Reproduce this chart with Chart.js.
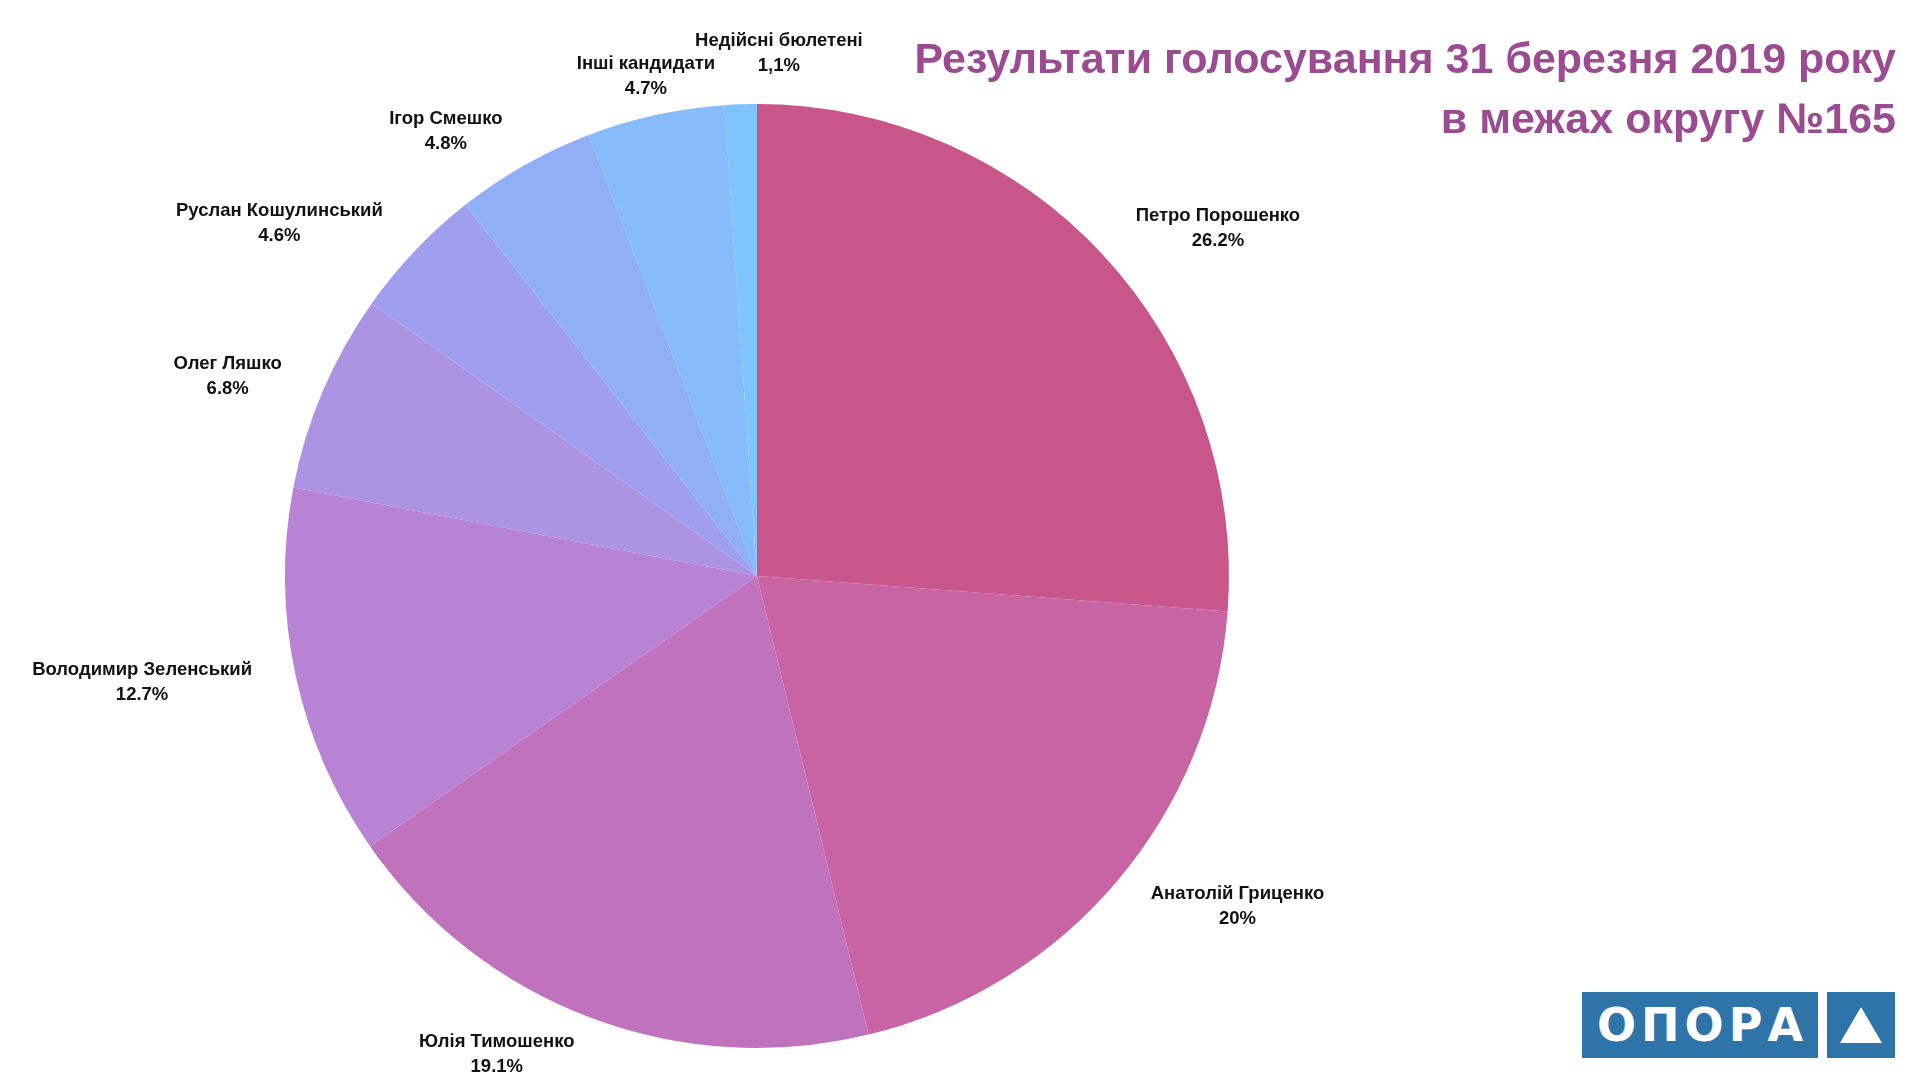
<!DOCTYPE html>
<html lang="uk">
<head>
<meta charset="utf-8">
<title>Результати голосування 31 березня 2019 року в межах округу №165</title>
<script src="https://cdn.jsdelivr.net/npm/chart.js@4.4.1/dist/chart.umd.min.js"></script>
<style>
    html, body { margin: 0; padding: 0; background: #ffffff; }
    body { width: 1920px; height: 1080px; position: relative; overflow: hidden; font-family: "Liberation Sans", Arial, sans-serif; }
    #chartVybory { position: absolute; left: 0; top: 0; }
    .titulo { position: absolute; right: 24px; top: 28px; text-align: right; color: #9b4b90; font-weight: bold; font-size: 43px; line-height: 60px; white-space: nowrap; }
    .logo-texto { position: absolute; left: 1582px; top: 992px; width: 236px; height: 66px; background: #2f74a8; color: #ffffff; font-family: "DejaVu Sans", sans-serif; font-weight: bold; font-size: 46px; letter-spacing: 5px; text-indent: 5px; line-height: 66px; text-align: center; }
    .logo-tri { position: absolute; left: 1827px; top: 992px; width: 68px; height: 66px; background: #2f74a8; }
    .logo-tri span { position: absolute; left: 13px; top: 15px; width: 0; height: 0; border-left: 21px solid transparent; border-right: 21px solid transparent; border-bottom: 36px solid #ffffff; }
</style>
</head>
<body>
<canvas id="chartVybory" width="1920" height="1080"></canvas>
<div class="titulo">Результати голосування 31 березня 2019 року<br>в межах округу №165</div>
<div class="logo-texto">ОПОРА</div>
<div class="logo-tri"><span></span></div>

<script>
var kandydaty = ['Петро Порошенко', 'Анатолій Гриценко', 'Юлія Тимошенко', 'Володимир Зеленський', 'Олег Ляшко', 'Руслан Кошулинський', 'Ігор Смешко', 'Інші кандидати', 'Недійсні бюлетені'],
    vidsotky = [26.2, 20, 19.1, 12.7, 6.8, 4.6, 4.8, 4.7, 1.1],
    vidsotky_texto = ['26.2%', '20%', '19.1%', '12.7%', '6.8%', '4.6%', '4.8%', '4.7%', '1,1%'],
    kolory = ['#c9568a', '#c864a4', '#c072bd', '#b883d4', '#ad93e3', '#a09fef', '#91aff7', '#86bbfc', '#7ec4fe'],
    ctx = document.getElementById('chartVybory');

// etiquetas fuera del pastel: nombre en negrita y porcentaje debajo
var etiquetasFuera = {
    id: 'etiquetasFuera',
    afterDatasetsDraw: function (chart) {
        var c = chart.ctx;
        var arcos = chart.getDatasetMeta(0).data;
        var cajas = [];
        var lineaAlto = 25;

        c.save();
        c.font = 'bold 18.5px "Liberation Sans", Arial, sans-serif';
        c.fillStyle = '#111111';
        c.textAlign = 'center';
        c.textBaseline = 'middle';

        arcos.forEach(function (arco, i) {
            var p = arco.getProps(['x', 'y', 'startAngle', 'endAngle', 'outerRadius'], true);
            var medio = (p.startAngle + p.endAngle) / 2;
            var r = p.outerRadius;
            var dirX = Math.cos(medio), dirY = Math.sin(medio);
            var ancho = Math.max(c.measureText(kandydaty[i]).width, c.measureText(vidsotky_texto[i]).width);
            // el borde interior del texto queda sobre un circulo un poco mayor que el pastel
            var cx = p.x + dirX * r * 1.094;
            var cy = p.y + dirY * r * 1.083;
            if (Math.abs(dirX) >= 0.3) {
                cx += (dirX > 0 ? 1 : -1) * ancho / 2;
            }
            var caja = { x: cx, y: cy, w: ancho, h: lineaAlto * 2 - 4 };

            // si choca con una etiqueta anterior se sube medio renglon y se corre de lado
            cajas.forEach(function (otra) {
                var chocaX = Math.abs(caja.x - otra.x) < (caja.w + otra.w) / 2 + 4;
                var chocaY = Math.abs(caja.y - otra.y) < (caja.h + otra.h) / 2;
                if (chocaX && chocaY) {
                    caja.y -= lineaAlto * 0.45;
                    if (caja.x >= otra.x) {
                        caja.x = otra.x + (otra.w + caja.w) / 2 - 20;
                    } else {
                        caja.x = otra.x - (otra.w + caja.w) / 2 + 20;
                    }
                }
            });
            cajas.push(caja);

            c.fillText(kandydaty[i], caja.x, caja.y - lineaAlto / 2);
            c.fillText(vidsotky_texto[i], caja.x, caja.y + lineaAlto / 2);
        });
        c.restore();
    }
};

var graficoVybory = new Chart(ctx, {
    type: 'pie',
    data: {
        labels: kandydaty,
        datasets: [{
            data: vidsotky,
            backgroundColor: kolory,
            borderWidth: 0
        }]
    },
    options: {
        responsive: false,
        animation: false,
        devicePixelRatio: 1,
        layout: {
            padding: { left: 285, right: 691, top: 104, bottom: 32 }
        },
        plugins: {
            legend: { display: false },
            tooltip: { enabled: false },
            title: { display: false }
        }
    },
    plugins: [etiquetasFuera]
});
</script>
</body>
</html>
